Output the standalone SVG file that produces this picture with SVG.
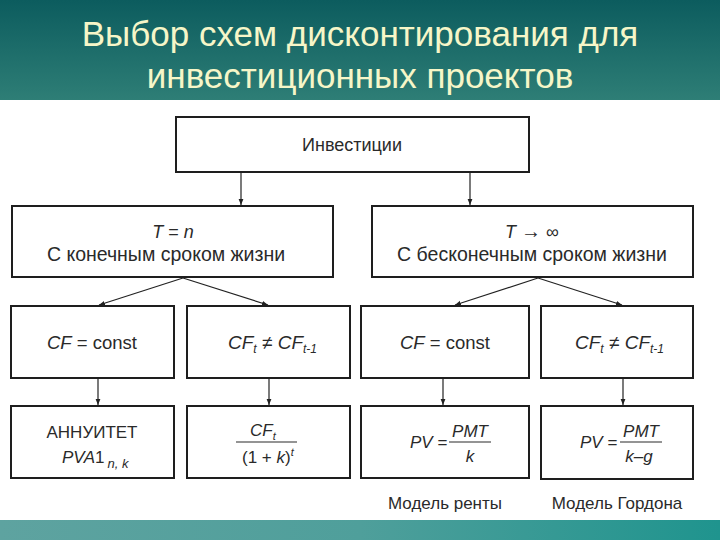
<svg xmlns="http://www.w3.org/2000/svg" width="720" height="540" viewBox="0 0 720 540">
<defs>
<linearGradient id="band" x1="0" y1="0" x2="0" y2="1">
<stop offset="0" stop-color="#0c5c5e"/>
<stop offset="1" stop-color="#2e7e76"/>
</linearGradient>
<linearGradient id="foot" x1="0" y1="0" x2="1" y2="0">
<stop offset="0" stop-color="#5ea3a0"/>
<stop offset="0.5" stop-color="#4f9f9b"/>
<stop offset="1" stop-color="#1f948e"/>
</linearGradient>
<marker id="ah" viewBox="0 0 10 10" refX="10" refY="5" markerWidth="6" markerHeight="6" orient="auto" markerUnits="userSpaceOnUse">
<path d="M0,1 L10,5 L0,9 Z" fill="#222"/>
</marker>
</defs>
<style>
.box{fill:#fff;stroke:#1e1e1e;stroke-width:2}
.t{font-family:"Liberation Sans",Arial,sans-serif;fill:#2a2a2a;text-anchor:middle}
.ts{font-family:"Liberation Sans",Arial,sans-serif;fill:#2a2a2a}
.i{font-style:italic}
.ttl{font-family:"Liberation Sans",Arial,sans-serif;font-size:35px;fill:#f6f6c8;text-anchor:middle}
.c{stroke:#222;stroke-width:1.2;fill:none}
.fl{stroke:#2a2a2a;stroke-width:1.2}
</style>
<rect x="0" y="0" width="720" height="100" fill="url(#band)"/>
<text class="ttl" x="360" y="46">Выбор схем дисконтирования для</text>
<text class="ttl" x="360" y="88">инвестиционных проектов</text>
<rect x="0" y="520" width="720" height="20" fill="url(#foot)"/>

<g id="connectors">
<line class="c" x1="241" y1="172" x2="241" y2="205" marker-end="url(#ah)"/>
<line class="c" x1="470" y1="172" x2="470" y2="205" marker-end="url(#ah)"/>
<line class="c" x1="183" y1="278" x2="99" y2="305" marker-end="url(#ah)"/>
<line class="c" x1="183" y1="278" x2="268" y2="305" marker-end="url(#ah)"/>
<line class="c" x1="538" y1="278" x2="455" y2="305" marker-end="url(#ah)"/>
<line class="c" x1="538" y1="278" x2="622" y2="305" marker-end="url(#ah)"/>
<line class="c" x1="98" y1="378" x2="98" y2="405" marker-end="url(#ah)"/>
<line class="c" x1="269" y1="378" x2="269" y2="405" marker-end="url(#ah)"/>
<line class="c" x1="443" y1="378" x2="443" y2="405" marker-end="url(#ah)"/>
<line class="c" x1="623" y1="378" x2="623" y2="405" marker-end="url(#ah)"/>
</g>

<g id="invest">
<rect class="box" x="176" y="117" width="353" height="55"/>
<text class="t" x="352" y="151" font-size="18">Инвестиции</text>
</g>

<g id="finite">
<rect class="box" x="12" y="206" width="321" height="71"/>
<text class="t" x="173" y="238" font-size="18"><tspan class="i">T</tspan> = <tspan class="i">n</tspan></text>
<text class="t" x="166" y="261" font-size="19.5">С конечным сроком жизни</text>
</g>

<g id="infinite">
<rect class="box" x="372" y="206" width="321" height="71"/>
<text class="t" x="532" y="238" font-size="18"><tspan class="i">T</tspan> <tspan font-size="20">→</tspan> ∞</text>
<text class="t" x="532" y="261" font-size="19.5">С бесконечным сроком жизни</text>
</g>

<g id="cf-const-1">
<rect class="box" x="11" y="306" width="163" height="72"/>
<text class="t" x="92" y="349" font-size="18.5"><tspan class="i">CF</tspan> = const</text>
</g>

<g id="cf-var-1">
<rect class="box" x="187" y="306" width="163" height="72"/>
<text class="ts" x="228" y="349" font-size="19"><tspan class="i">CF</tspan><tspan class="i" font-size="12" dy="4">t</tspan><tspan dy="-4"> ≠ </tspan><tspan class="i">CF</tspan><tspan class="i" font-size="12" dy="4">t-1</tspan></text>
</g>

<g id="cf-const-2">
<rect class="box" x="361" y="306" width="168" height="72"/>
<text class="t" x="445" y="349" font-size="18.5"><tspan class="i">CF</tspan> = const</text>
</g>

<g id="cf-var-2">
<rect class="box" x="541" y="306" width="152" height="72"/>
<text class="ts" x="575" y="349" font-size="19"><tspan class="i">CF</tspan><tspan class="i" font-size="12" dy="4">t</tspan><tspan dy="-4"> ≠ </tspan><tspan class="i">CF</tspan><tspan class="i" font-size="12" dy="4">t-1</tspan></text>
</g>

<g id="annuity">
<rect class="box" x="11" y="406" width="163" height="72"/>
<text class="t" x="92" y="438" font-size="17">АННУИТЕТ</text>
<text class="ts" x="62" y="463" font-size="17"><tspan class="i">PVA</tspan>1<tspan class="i" font-size="13" dx="3" dy="5">n, k</tspan></text>
</g>

<g id="discount">
<rect class="box" x="187" y="406" width="163" height="72"/>
<text class="ts" x="250" y="436" font-size="17"><tspan class="i">CF</tspan><tspan class="i" font-size="11" dy="4">t</tspan></text>
<line class="fl" x1="236" y1="442" x2="297" y2="442"/>
<text class="ts" x="242" y="463" font-size="17">(1 + <tspan class="i">k</tspan>)<tspan class="i" font-size="11" dy="-7">t</tspan></text>
</g>

<g id="rent">
<rect class="box" x="361" y="406" width="168" height="72"/>
<text class="ts" x="410" y="448" font-size="17"><tspan class="i">PV</tspan> =</text>
<line class="fl" x1="449" y1="442" x2="491" y2="442"/>
<text class="t i" x="470" y="437" font-size="17">PMT</text>
<text class="t i" x="470" y="462" font-size="17">k</text>
</g>

<g id="gordon">
<rect class="box" x="541" y="406" width="152" height="73"/>
<text class="ts" x="580" y="448" font-size="17"><tspan class="i">PV</tspan> =</text>
<line class="fl" x1="620" y1="442" x2="662" y2="442"/>
<text class="t i" x="641" y="437" font-size="17">PMT</text>
<text class="t i" x="639" y="462" font-size="17">k–g</text>
</g>

<text class="t" x="445" y="509" font-size="17">Модель ренты</text>
<text class="t" x="617" y="509" font-size="17">Модель Гордона</text>
</svg>
